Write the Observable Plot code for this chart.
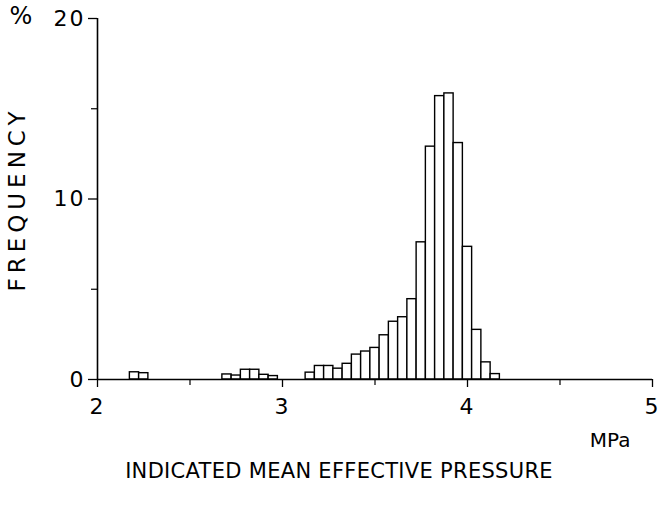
<!DOCTYPE html>
<html><head><meta charset="utf-8">
<script src="https://cdn.jsdelivr.net/npm/d3@7"></script>
<script src="https://cdn.jsdelivr.net/npm/@observablehq/plot@0.6"></script>
<style>
body{margin:0;background:#fff;font-family:"DejaVu Sans",sans-serif;}
#title{width:658px;text-align:center;font-size:21px;line-height:22px;padding-top:10px;padding-left:20px;box-sizing:border-box;letter-spacing:0.3px;color:#000;font-weight:400}
</style></head><body>
<div id="chart"></div>
<div id="title">INDICATED MEAN EFFECTIVE PRESSURE</div>
<script>
// bin centres (MPa)
const pressure = [2.20, 2.25,
  2.70, 2.75, 2.80, 2.85, 2.90, 2.95,
  3.15, 3.20, 3.25, 3.30, 3.35, 3.40, 3.45, 3.50, 3.55, 3.60, 3.65, 3.70,
  3.75, 3.80, 3.85, 3.90, 3.95, 4.00, 4.05, 4.10, 4.15];
// frequency (%)
const frequency = [0.40, 0.35,
  0.28, 0.22, 0.54, 0.54, 0.26, 0.19,
  0.38, 0.75, 0.75, 0.60, 0.87, 1.38, 1.55, 1.75, 2.45, 3.20, 3.45, 4.45,
  7.60, 12.9, 15.7, 15.85, 13.1, 7.35, 2.75, 0.95, 0.30];
const xTicks = [2, 3, 4, 5];
const xMinorTicks = [2.5, 3.5, 4.5];
const yTicks = [0, 10, 20];
const yMinorTicks = [5, 15];
const binWidth = 0.05;

const data = pressure.map((p, i) => ({p, f: frequency[i]}));

const chart = Plot.plot({
  width: 658, height: 450,
  marginTop: 18, marginLeft: 97, marginRight: 6, marginBottom: 71,
  style: {fontFamily: "'DejaVu Sans', sans-serif", fontSize: "22px", color: "#000", background: "#fff", overflow: "visible"},
  x: {domain: [2, 5]},
  y: {domain: [0, 20]},
  marks: [
    Plot.rectY(data, {x1: d => d.p - binWidth / 2, x2: d => d.p + binWidth / 2, y: "f", fill: "white", stroke: "black", strokeWidth: 1.4}),
    Plot.ruleY([0], {stroke: "black", strokeWidth: 1.6}),
    Plot.ruleX([2], {stroke: "black", strokeWidth: 1.6}),
    Plot.axisX(xTicks, {tickSize: 8, tickPadding: 11, tickFormat: d => String(d), label: null, strokeWidth: 1.3}),
    Plot.axisX(xMinorTicks, {tickSize: 6, tickFormat: () => "", label: null, strokeWidth: 1.2}),
    Plot.axisY(yTicks, {tickSize: 9, tickPadding: 3, tickFormat: d => String(d), label: "FREQUENCY", labelAnchor: "center", labelOffset: 89, labelArrow: "none", strokeWidth: 1.3}),
    Plot.axisY(yMinorTicks, {tickSize: 6, tickFormat: () => "", label: null, strokeWidth: 1.2}),
    Plot.text(["%"], {frameAnchor: "top-left", dx: -88, dy: -12, fontSize: 24}),
    Plot.text(["MPa"], {frameAnchor: "bottom-right", dx: -22, dy: 67, fontSize: 20})
  ]
});
document.getElementById("chart").appendChild(chart);
// widen lettering of the y label and tick digits like the original typeface
d3.select(chart).selectAll("g[aria-label='y-axis label'] text").style("font-size", "23px").style("letter-spacing", "5px");
d3.select(chart).selectAll("g[aria-label='y-axis tick label'] text, g[aria-label='x-axis tick label'] text").style("letter-spacing", "2px");
// keep the last x tick label ("5") inside the picture
d3.select(chart).selectAll("text").filter(function () { return this.textContent === "5"; })
  .style("letter-spacing", "0px").attr("text-anchor", "end").attr("dx", 6);
</script>
</body></html>
